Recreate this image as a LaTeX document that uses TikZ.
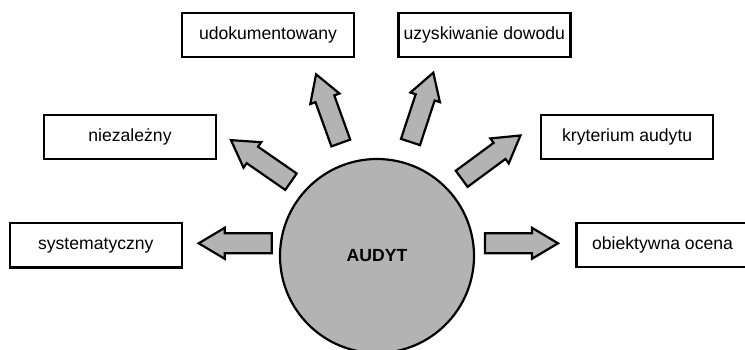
\documentclass[tikz,border=0pt]{standalone}
\usepackage{fontspec}
\setmainfont{Liberation Sans}
\definecolor{audytgray}{RGB}{179,179,179}
\begin{document}
\begin{tikzpicture}[x=1pt,y=-1pt,
  box/.style={draw,line width=2.4pt,minimum width=172pt,minimum height=44pt,
    inner sep=0pt,font=\fontsize{17.6}{20}\selectfont},
  core/.style={circle,draw,line width=2.2pt,fill=audytgray,minimum size=194pt,
    inner sep=0pt,font=\bfseries\fontsize{17.6}{20}\selectfont},
  blockarrow/.pic={\draw[line width=2.2pt,fill=audytgray,line join=miter]
    (0,-10) -- (47,-10) -- (47,-15.5) -- (73,0) -- (47,15.5) -- (47,10) -- (0,10) -- cycle;}
]
\useasboundingbox (0,0) rectangle (745,350);

% central circle
\node[core] (audyt) at (377,256) {AUDYT};

% attribute boxes
\node[box] (udok)   at (268,35)    {udokumentowany};
\node[box] (uzysk)  at (484.3,35)  {uzyskiwanie dowodu};
\node[box] (niez)   at (130,137)   {niezależny};
\node[box] (kryt)   at (627.2,137) {kryterium audytu};
\node[box] (syst)   at (95.8,245.3) {systematyczny};
\node[box] (obiekt) at (662.5,245)  {obiektywna ocena};

% block arrows pointing outwards
\pic[rotate=180]   at (271.7,243.3) {blockarrow};
\pic[rotate=0]     at (485,243.3)   {blockarrow};
\pic[rotate=145.3] at (291,181.7)   {blockarrow};
\pic[rotate=109.8] at (340.8,143)   {blockarrow};
\pic[rotate=71.8]  at (410.5,142)   {blockarrow};
\pic[rotate=36.4]  at (461.7,178.8) {blockarrow};
\end{tikzpicture}
\end{document}
